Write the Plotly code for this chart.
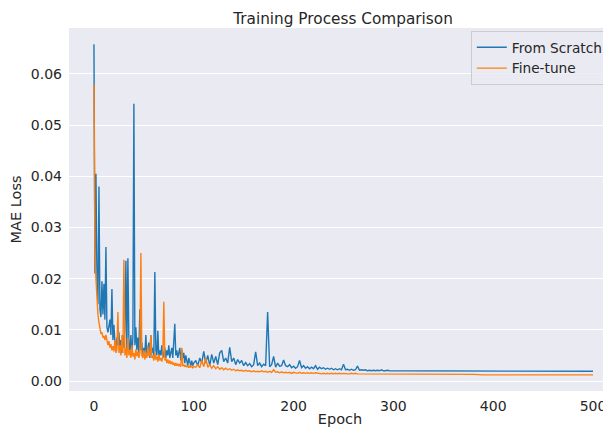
import plotly.graph_objects as go

# Epoch positions (every epoch early, then coarser where curves are flat)
epochs = list(range(0, 101)) + list(range(102, 301, 2)) + list(range(310, 501, 10))

scratch_loss = [
    0.0658, 0.0210, 0.0405, 0.0200, 0.0150, 0.0380, 0.0140, 0.0125, 0.0195, 0.0130,
    0.0190, 0.0120, 0.0262, 0.0105, 0.0095, 0.0110, 0.0120, 0.0090, 0.0180, 0.0080,
    0.0110, 0.0075, 0.0060, 0.0085, 0.0070, 0.0095, 0.0060, 0.0080, 0.0055, 0.0090,
    0.0065, 0.0100, 0.0235, 0.0060, 0.0240, 0.0075, 0.0060, 0.0090, 0.0050, 0.0085,
    0.0542, 0.0070, 0.0105, 0.0060, 0.0085, 0.0055, 0.0140, 0.0060, 0.0075, 0.0050,
    0.0065, 0.0055, 0.0090, 0.0050, 0.0060, 0.0075, 0.0045, 0.0090, 0.0055, 0.0065,
    0.0050, 0.0213, 0.0060, 0.0050, 0.0098, 0.0045, 0.0060, 0.0050, 0.0070, 0.0045,
    0.0055, 0.0065, 0.0045, 0.0060, 0.0050, 0.0070, 0.0045, 0.0055, 0.0065, 0.0045,
    0.0070, 0.0112, 0.0050, 0.0060, 0.0045, 0.0055, 0.0065, 0.0040, 0.0060, 0.0045,
    0.0055, 0.0035, 0.0050, 0.0040, 0.0030, 0.0045, 0.0035, 0.0030, 0.0040, 0.0030,
    0.0035,
    0.0040, 0.0030, 0.0045, 0.0035, 0.0058, 0.0035, 0.0050, 0.0030, 0.0052, 0.0035,
    0.0048, 0.0032, 0.0055, 0.0060, 0.0038, 0.0045, 0.0035, 0.0066, 0.0038, 0.0045,
    0.0032, 0.0042, 0.0035, 0.0040, 0.0030, 0.0036, 0.0030, 0.0034, 0.0028, 0.0032,
    0.0057, 0.0030, 0.0035, 0.0028, 0.0033, 0.0030, 0.0135, 0.0028, 0.0032, 0.0048,
    0.0027, 0.0035, 0.0029, 0.0030, 0.0041, 0.0030, 0.0028, 0.0032, 0.0026, 0.0029,
    0.0025, 0.0028, 0.0040, 0.0026, 0.0030, 0.0025, 0.0028, 0.0024, 0.0027, 0.0024,
    0.0030, 0.0023, 0.0027, 0.0024, 0.0026, 0.0023, 0.0025, 0.0023, 0.0025, 0.0022,
    0.0024, 0.0022, 0.0024, 0.0022, 0.0033, 0.0022, 0.0023, 0.0021, 0.0023, 0.0021,
    0.0022, 0.0029, 0.0021, 0.0022, 0.0021, 0.0022, 0.0020, 0.0021, 0.0020, 0.0021,
    0.0020, 0.0021, 0.0020, 0.0022, 0.0020, 0.0020, 0.0021, 0.0020, 0.0020, 0.0020,
    0.0020, 0.0020, 0.0019, 0.0020, 0.0019, 0.0019, 0.0019, 0.0019, 0.0019, 0.0019,
    0.0019, 0.0019, 0.0019, 0.0019, 0.0019, 0.0019, 0.0019, 0.0019, 0.0019, 0.0019,
]

finetune_loss = [
    0.0580, 0.0250, 0.0200, 0.0160, 0.0130, 0.0115, 0.0100, 0.0092, 0.0095, 0.0085,
    0.0088, 0.0080, 0.0090, 0.0075, 0.0070, 0.0078, 0.0065, 0.0072, 0.0060, 0.0068,
    0.0058, 0.0080, 0.0055, 0.0062, 0.0135, 0.0055, 0.0070, 0.0050, 0.0090, 0.0055,
    0.0237, 0.0050, 0.0065, 0.0045, 0.0085, 0.0050, 0.0060, 0.0045, 0.0070, 0.0048,
    0.0055, 0.0042, 0.0062, 0.0048, 0.0058, 0.0045, 0.0055, 0.0250, 0.0050, 0.0045,
    0.0060, 0.0042, 0.0055, 0.0045, 0.0068, 0.0048, 0.0052, 0.0090, 0.0045, 0.0050,
    0.0040, 0.0055, 0.0042, 0.0048, 0.0038, 0.0052, 0.0040, 0.0045, 0.0038, 0.0050,
    0.0155, 0.0040, 0.0045, 0.0035, 0.0042, 0.0034, 0.0040, 0.0033, 0.0038, 0.0032,
    0.0036, 0.0030, 0.0035, 0.0030, 0.0034, 0.0029, 0.0033, 0.0028, 0.0065, 0.0029,
    0.0032, 0.0028, 0.0031, 0.0027, 0.0030, 0.0026, 0.0029, 0.0027, 0.0030, 0.0026,
    0.0028,
    0.0027, 0.0032, 0.0026, 0.0040, 0.0028, 0.0045, 0.0027, 0.0032, 0.0025, 0.0030,
    0.0024, 0.0028, 0.0023, 0.0026, 0.0022, 0.0025, 0.0022, 0.0024, 0.0021, 0.0023,
    0.0020, 0.0022, 0.0020, 0.0021, 0.0019, 0.0021, 0.0019, 0.0020, 0.0018, 0.0020,
    0.0018, 0.0019, 0.0018, 0.0020, 0.0018, 0.0019, 0.0017, 0.0019, 0.0017, 0.0022,
    0.0017, 0.0018, 0.0016, 0.0018, 0.0016, 0.0017, 0.0016, 0.0017, 0.0015, 0.0017,
    0.0016, 0.0015, 0.0017, 0.0015, 0.0016, 0.0015, 0.0016, 0.0015, 0.0016, 0.0015,
    0.0016, 0.0015, 0.0015, 0.0014, 0.0015, 0.0014, 0.0015, 0.0014, 0.0015, 0.0014,
    0.0015, 0.0014, 0.0015, 0.0014, 0.0015, 0.0014, 0.0014, 0.0014, 0.0015, 0.0014,
    0.0015, 0.0014, 0.0014, 0.0013, 0.0014, 0.0013, 0.0014, 0.0013, 0.0014, 0.0013,
    0.0014, 0.0013, 0.0013, 0.0013, 0.0014, 0.0013, 0.0013, 0.0013, 0.0013, 0.0013,
    0.0013, 0.0013, 0.0013, 0.0013, 0.0013, 0.0013, 0.0013, 0.0013, 0.0012, 0.0012,
    0.0012, 0.0012, 0.0012, 0.0012, 0.0012, 0.0012, 0.0012, 0.0012, 0.0012, 0.0012,
]

x_ticks = [0, 100, 200, 300, 400, 500]
y_ticks = [0.00, 0.01, 0.02, 0.03, 0.04, 0.05, 0.06]
y_tick_labels = ["0.00", "0.01", "0.02", "0.03", "0.04", "0.05", "0.06"]

FONT = "DejaVu Sans"
TXT = "#262626"

# page body adds an 8px offset, so the figure is 603x419
W, H = 603, 419

fig = go.Figure()
fig.add_trace(go.Scatter(x=epochs, y=scratch_loss, mode="lines", name="From Scratch",
                         line=dict(color="#1f77b4", width=1.4)))
fig.add_trace(go.Scatter(x=epochs, y=finetune_loss, mode="lines", name="Fine-tune",
                         line=dict(color="#ff7f0e", width=1.4)))

fig.update_layout(
    width=W, height=H,
    margin=dict(l=61, r=0, t=20, b=36, autoexpand=False),
    paper_bgcolor="white",
    plot_bgcolor="#eaeaf2",
    font=dict(family=FONT, color=TXT, size=13.7),
    title=dict(text="Training Process Comparison", x=335 / W, xref="container",
               xanchor="center", y=1 - 11 / H, yref="container", yanchor="middle",
               font=dict(family=FONT, size=15.3, color=TXT)),
    xaxis=dict(range=[-25, 518], tickvals=x_ticks, showgrid=False, zeroline=False,
               showline=False, ticks="", ticklabelstandoff=5,
               tickfont=dict(size=14),
               title=dict(text="Epoch", font=dict(size=14.5), standoff=7),
               automargin=False),
    yaxis=dict(range=[-0.00195, 0.06898], tickvals=y_ticks, ticktext=y_tick_labels,
               showgrid=True, gridcolor="white", gridwidth=1, zeroline=False,
               showline=False, ticks="", ticklabelstandoff=6,
               tickfont=dict(size=14),
               title=dict(text="MAE Loss", font=dict(size=14.5), standoff=5),
               automargin=False),
    legend=dict(x=0.996, y=0.992, xanchor="right", yanchor="top",
                bgcolor="rgba(234,234,242,0.8)", bordercolor="#cccccc", borderwidth=1,
                font=dict(size=13.7, color=TXT), itemwidth=30, tracegroupgap=0),
    showlegend=True,
)

fig.write_html("out.html")
